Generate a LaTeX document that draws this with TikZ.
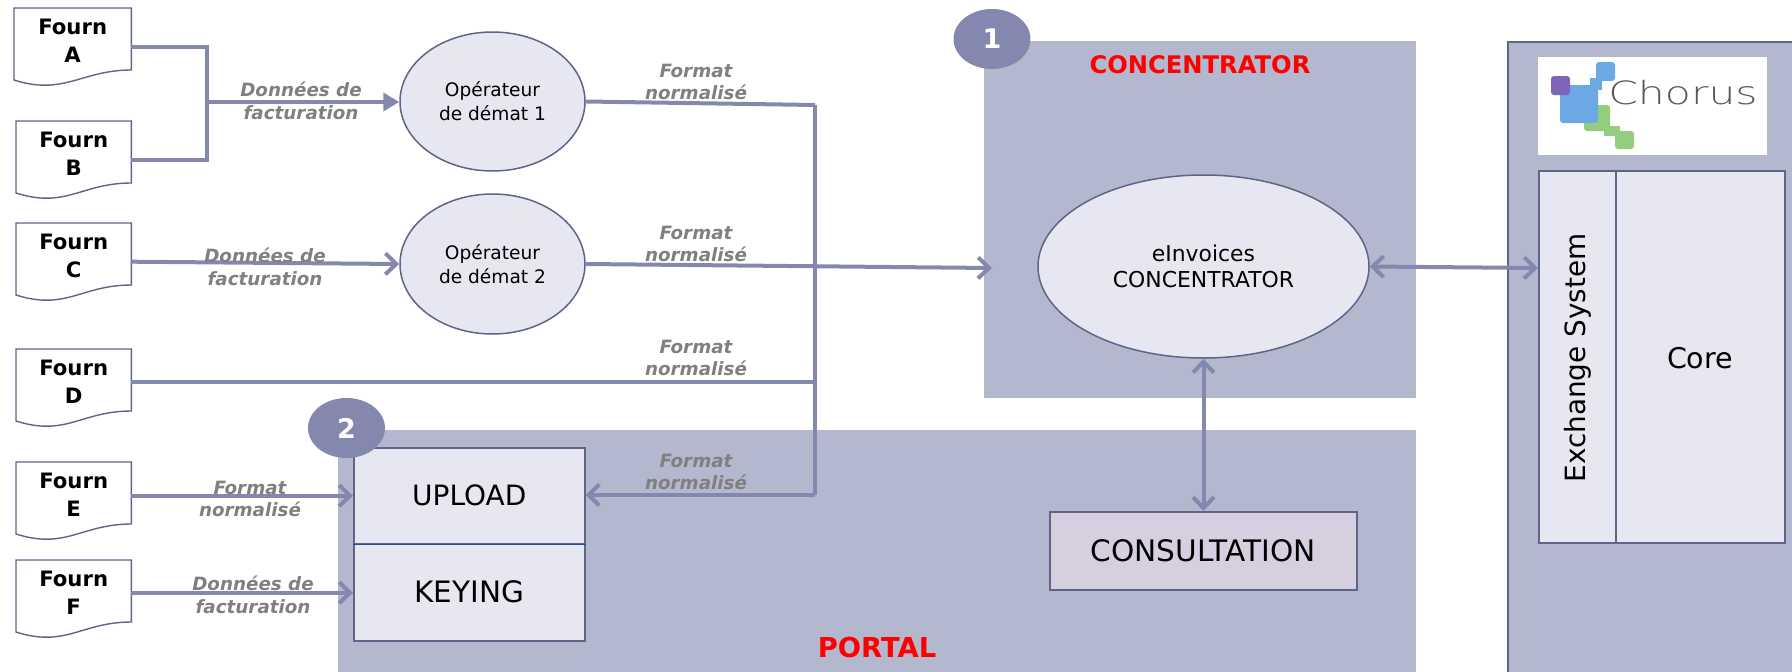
\documentclass[tikz,border=0pt]{standalone}
\usepackage{fontspec}
\setmainfont{DejaVu Sans}
\newfontfamily\logofont{DejaVu Sans ExtraLight}
\usetikzlibrary{arrows.meta,calc,shapes.geometric}
\definecolor{panel}{HTML}{B3B8CE}
\definecolor{lite}{HTML}{E6E7F0}
\definecolor{edge}{HTML}{5F6488}
\definecolor{wire}{HTML}{8488AE}
\definecolor{cons}{HTML}{D5CFDF}
\definecolor{lab}{HTML}{808080}
\definecolor{logoblue}{HTML}{6CA8E4}
\definecolor{logogreen}{HTML}{93CE7E}
\definecolor{logoviolet}{HTML}{7E65B8}
\definecolor{logotext}{HTML}{5A5A5A}
\definecolor{divider}{HTML}{2A4E96}
\tikzset{
  x=1pt,y=-1pt,
  docbox/.style={inner sep=0pt,minimum height=77pt},
  doctext/.style={inner sep=0pt,align=center,font=\fontsize{21.2}{27.5}\selectfont\bfseries},
  docline/.style={draw=edge,line width=1.4pt,fill=white},
  oval/.style={draw=edge,line width=1.5pt,fill=lite,ellipse,inner sep=0pt,align=center},
  panelbox/.style={fill=panel,inner sep=0pt},
  cell/.style={draw=edge,line width=1.5pt,fill=lite,inner sep=0pt,font=\fontsize{28}{32}\selectfont},
  badge/.style={ellipse,fill=wire,text=white,inner sep=0pt,minimum width=77pt,minimum height=60pt,
    font=\fontsize{27}{30}\selectfont\bfseries},
  wirepath/.style={draw=wire,line width=4pt},
  open/.style={wirepath,-{Straight Barb[length=11pt,width=21pt,line width=4pt]}},
  both/.style={wirepath,{Straight Barb[length=11pt,width=21pt,line width=4pt]}-{Straight Barb[length=11pt,width=21pt,line width=4pt]}},
  solidtip/.style={wirepath,-{Triangle[length=16pt,width=18pt]}},
  flowlab/.style={text=lab,align=center,inner sep=0pt,font=\fontsize{18.3}{22.5}\selectfont\bfseries\itshape},
  title/.style={text=red,inner sep=0pt,font=\fontsize{24.2}{28}\selectfont\bfseries},
}
\newcommand{\docshape}[5]{% name, x left, y top, width, text
  \node[docbox,minimum width=#4pt,anchor=north west] (#1) at (#2,#3) {};
  \draw[docline] (#1.north west) -- (#1.north east) -- ($(#1.north east)+(0,62)$)
     .. controls ($(#1.north east)+(-50,62)$) and ($(#1.north west)+(50,88)$) .. ($(#1.north west)+(0,72)$) -- cycle;
  \node[doctext] (#1t) at ([yshift=6pt]#1.center) {#5};
}
\begin{document}
\begin{tikzpicture}
\useasboundingbox (0,0) rectangle (1792,672);
% panels
\node[panelbox,minimum width=432pt,minimum height=357pt,anchor=north west] (conc) at (984,41) {};
\node[panelbox,minimum width=1078pt,minimum height=242pt,anchor=north west] (port) at (338,430) {};
\node[panelbox,draw=edge,line width=1.5pt,minimum width=290pt,minimum height=640pt,anchor=north west] (chorus) at (1507,41) {};
% logo
\node[fill=white,inner sep=0pt,minimum width=229pt,minimum height=98pt,anchor=north west] (logo) at (1538,57) {};
\fill[logogreen,rounded corners=3pt] (1584,105) rectangle (1610,131);
\fill[logogreen,rounded corners=3pt] (1615,131) rectangle (1634,149);
\fill[logogreen] (1604,126) rectangle (1620,136);
\fill[logoblue,rounded corners=3pt] (1560,85) rectangle (1598,123);
\fill[logoblue,rounded corners=3pt] (1596,62) rectangle (1615,81);
\fill[logoblue] (1590,78) rectangle (1602,90);
\fill[logoviolet,rounded corners=3pt] (1551,76) rectangle (1570,95);
\node[inner sep=0pt,text=logotext,anchor=west,xscale=1.33,font=\logofont\fontsize{32}{36}\selectfont] (logotxt) at (1608,93) {Chorus};
% named ends
\coordinate (j1) at (207,102);
\coordinate (bus1) at (815,105);
\coordinate (bus2) at (815,495);
\coordinate (conctip) at (992,268);
\coordinate (exch) at (1538,268);
% cells
\node[cell,minimum width=231pt,minimum height=96pt,anchor=north west] (up) at (353,447) {UPLOAD};
\node[cell,minimum width=231pt,minimum height=97pt,anchor=north west,font=\fontsize{29.5}{32}\selectfont] (key) at (353,543) {KEYING};
\draw[draw=divider,line width=1.6pt] (up.south west) -- (up.south east);
\node[cell,fill=cons,minimum width=307pt,minimum height=78pt,anchor=north west,font=\fontsize{29.6}{32}\selectfont] (consult) at (1049,511) {CONSULTATION};
\node[cell,minimum width=77pt,minimum height=372pt,anchor=north west] (ex) at (1538,170) {};
\node[rotate=90,inner sep=0pt,font=\fontsize{27.9}{30}\selectfont] (extxt) at (1578,358) {Exchange System};
\node[cell,minimum width=169pt,minimum height=372pt,anchor=north west] (core) at (1615,170) {};
\node[inner sep=0pt,font=\fontsize{28.5}{30}\selectfont] (coretxt) at (1700,358) {Core};
% ellipses
\node[oval,minimum width=185pt,minimum height=139pt,font=\fontsize{18.6}{24}\selectfont] (op1) at (492.5,101.5) {Opérateur\\de démat 1};
\node[oval,minimum width=185pt,minimum height=140pt,font=\fontsize{18.6}{24}\selectfont] (op2) at (492.5,264) {Opérateur\\de démat 2};
\node[oval,minimum width=331pt,minimum height=183pt,font=\fontsize{21.9}{26}\selectfont] (ein) at (1203.5,266.5) {eInvoices\\CONCENTRATOR};
% documents
\docshape{a}{14}{8}{117}{Fourn\\A}
\docshape{b}{16}{121}{115}{Fourn\\B}
\docshape{c}{16}{223}{115}{Fourn\\C}
\docshape{d}{16}{349}{115}{Fourn\\D}
\docshape{e}{16}{462}{115}{Fourn\\E}
\docshape{f}{16}{560}{115}{Fourn\\F}
% connectors
\draw[wirepath,line join=miter] (a.east) -| (j1) |- (b.east);
\draw[solidtip] (j1) -- (j1 -| op1.west);
\draw[open] (c.east) -- (op2.west);
\draw[wirepath] (op1.east) -- (bus1);
\draw[wirepath] (bus1) -- (bus2);
\draw[open] (bus2) -- (up.east |- bus2);
\draw[open] (op2.east) -- (conctip);
\draw[wirepath] ([yshift=6pt]d.east) -- ([yshift=6pt]d.east -| bus1);
\draw[open] ([yshift=5pt]e.east) -- ([yshift=5pt]e.east -| up.west);
\draw[open] ([yshift=6pt]f.east) -- ([yshift=6pt]f.east -| key.west);
\draw[both] (ein.east) -- (exch);
\draw[both] (ein.south) -- (ein.south |- consult.north);
% labels
\node[flowlab] (l1) at (301,101) {Données de\\facturation};
\node[flowlab] (l2) at (265,267) {Données de\\facturation};
\node[flowlab] (l3) at (696,82) {Format\\normalisé};
\node[flowlab] (l4) at (696,244) {Format\\normalisé};
\node[flowlab] (l5) at (696,358) {Format\\normalisé};
\node[flowlab] (l6) at (696,472) {Format\\normalisé};
\node[flowlab] (l7) at (250,499) {Format\\normalisé};
\node[flowlab] (l8) at (253,595) {Données de\\facturation};
% titles and badges
\node[title] (t1) at (1200,65) {CONCENTRATOR};
\node[title,font=\fontsize{27.4}{30}\selectfont\bfseries] (t2) at (877,648) {PORTAL};
\node[badge] (b1) at (992,39) {1};
\node[badge] (b2) at (346.5,428) {2};
\end{tikzpicture}
\end{document}
